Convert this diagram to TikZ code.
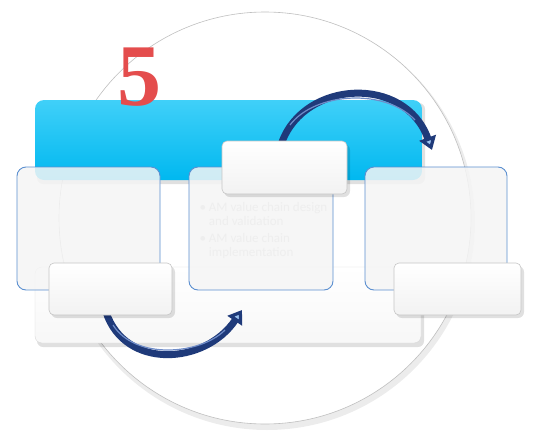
\documentclass[tikz,border=0pt]{standalone}
\usepackage{fontspec}
\setmainfont{Liberation Serif}
\newfontfamily\carlitofam{Carlito}
\usetikzlibrary{arrows.meta}
\definecolor{navy}{HTML}{1F3A7A}
\definecolor{navyhi}{HTML}{6F8CC8}
\definecolor{tipblue}{HTML}{9CC3F0}
\definecolor{cyanbar}{HTML}{00B8F0}
\definecolor{cyantop}{HTML}{40D0F8}
\definecolor{boxedge}{HTML}{5B8FD0}
\definecolor{fivered}{HTML}{E44D4D}
\begin{document}
\begin{tikzpicture}[x=1pt,y=-1pt,
  shadowbox/.style={fill=black,opacity=0.12,rounded corners=6pt},
  panel/.style={draw=boxedge,line width=0.9pt,fill=gray!8,fill opacity=0.85,rounded corners=9pt},
  labelbox/.style={draw=gray!45,line width=0.6pt,top color=white,bottom color=gray!10,rounded corners=5pt},
  curlarrow/.style={draw=navy,line width=7pt},
  curlhi/.style={draw=navyhi,line width=1.2pt},
  faint/.style={text=gray!13,font=\carlitofam\fontsize{13}{14}\selectfont,align=left,anchor=north west}]
\useasboundingbox (0,0) rectangle (549,434);
% big circle
\fill[gray!15] (267,222) circle (208);
\node[circle,draw=gray!50,line width=0.6pt,fill=white,minimum size=412pt,inner sep=0pt] (disc) at (265,218) {};
% blue bar
\fill[shadowbox] (37,103) rectangle (425,184);
\node[rounded corners=9pt,top color=cyantop,bottom color=cyanbar,minimum width=387pt,minimum height=80pt,inner sep=0pt] (bar) at (228.5,140) {};
% bottom white bar
\fill[shadowbox] (37,270) rectangle (424,347);
\node[rounded corners=7pt,draw=gray!30,top color=white,bottom color=gray!6,minimum width=386pt,minimum height=76pt,inner sep=0pt] (base) at (228,305) {};
% panels
\node[panel,minimum width=143pt,minimum height=123pt,inner sep=0pt] (p1) at (88.5,228.5) {};
\node[panel,minimum width=144pt,minimum height=123pt,inner sep=0pt] (p2) at (261,228.5) {};
\node[panel,minimum width=142pt,minimum height=123pt,inner sep=0pt] (p3) at (436,228.5) {};
% faint text
\node[faint] (txt) at (196,199) {\textbullet\ AM value chain design\\\phantom{\textbullet\ }and validation\\[3pt]\textbullet\ AM value chain\\\phantom{\textbullet\ }implementation};
% arrows
\coordinate (a1s) at (282,142);
\coordinate (a1e) at (432,150);
\coordinate (a2s) at (106,312);
\coordinate (a2e) at (242,310);
\draw[curlarrow,-{Triangle[length=13pt,width=17pt,fill=tipblue]}] (a1s) .. controls (305,80) and (405,75) .. (a1e);
\draw[curlhi] (290,125) .. controls (315,92) and (385,88) .. (415,120);
\draw[curlarrow,-{Triangle[length=13pt,width=17pt,fill=tipblue]}] (a2s) .. controls (125,370) and (205,365) .. (a2e);
\draw[curlhi] (113,325) .. controls (135,360) and (200,355) .. (225,330);
% label boxes
\fill[shadowbox] (224,144) rectangle (350,197);
\node[labelbox,minimum width=125pt,minimum height=53pt,inner sep=0pt] (l2) at (284.5,167.5) {};
\fill[shadowbox] (51,266) rectangle (175,318);
\node[labelbox,minimum width=123pt,minimum height=52pt,inner sep=0pt] (l1) at (110.5,289) {};
\fill[shadowbox] (396,266) rectangle (524,318);
\node[labelbox,minimum width=127pt,minimum height=52pt,inner sep=0pt] (l3) at (457.5,289) {};
% number 5
\node[text=fivered,font=\bfseries\fontsize{88}{88}\selectfont] (five) at (139,77) {5};
\end{tikzpicture}
\end{document}
